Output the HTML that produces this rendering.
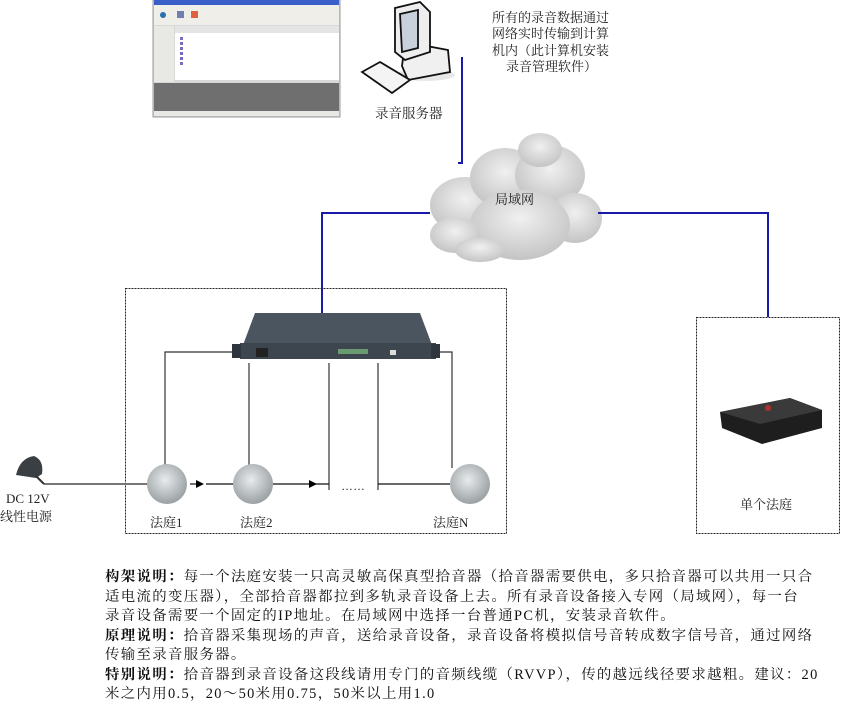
<!DOCTYPE html>
<html><head><meta charset="utf-8"><style>
html,body{margin:0;padding:0;background:#fff;width:841px;height:711px;overflow:hidden}
svg{position:absolute;left:0;top:0}
.t{font-family:"Liberation Serif","Noto Serif CJK SC",serif;fill:#222}
#desc{position:absolute;left:105px;top:568px;width:736px;font-family:"Liberation Serif","Noto Serif CJK SC",serif;font-size:14.4px;line-height:19.5px;color:#111;letter-spacing:1.35px}
#desc div{white-space:nowrap}
#desc b{font-weight:bold}
</style></head><body>
<svg width="841" height="711" viewBox="0 0 841 711">
<defs>
<radialGradient id="cl" cx="50%" cy="40%" r="60%"><stop offset="0" stop-color="#f0f0f0"/><stop offset="1" stop-color="#c4c4c4"/></radialGradient>
<radialGradient id="mic" cx="45%" cy="40%" r="60%"><stop offset="0" stop-color="#e8ebec"/><stop offset="1" stop-color="#9aa0a3"/></radialGradient>
</defs>
<rect x="153" y="0" width="187" height="117" fill="#d8d8d8" stroke="#999"/>
<rect x="154" y="0" width="185" height="5" fill="#3a5fc8"/>
<rect x="154" y="5" width="185" height="20" fill="#efeee8"/>
<circle cx="163" cy="15" r="3" fill="#2a6fb0"/><rect x="177" y="11" width="7" height="7" fill="#7080b0"/><rect x="191" y="11" width="7" height="7" fill="#e06040"/>
<rect x="154" y="26" width="20" height="56" fill="#e8e8e4"/>
<rect x="175" y="26" width="164" height="54" fill="#fff"/>
<rect x="175" y="26" width="164" height="7" fill="#e4e4e4"/>
<g fill="#7a6bc0"><rect x="180" y="37" width="3" height="3"/><rect x="180" y="42" width="3" height="3"/><rect x="180" y="47" width="3" height="3"/><rect x="180" y="52" width="3" height="3"/><rect x="180" y="57" width="3" height="3"/><rect x="180" y="62" width="3" height="3"/></g>
<rect x="154" y="83" width="185" height="28" fill="#6f6f6f"/>
<rect x="154" y="111" width="185" height="5" fill="#e8e8e4"/>
<g stroke="#111" stroke-width="1.8">
<ellipse cx="425" cy="75" rx="30" ry="6" fill="#ddd" stroke="none" opacity=".7"/>
<polygon points="405,42 448,50 450,72 408,80 402,66" fill="#f0f0f0"/>
<polygon points="395,8 420,2 430,12 430,52 405,60 395,52" fill="#eee"/>
<polygon points="400,14 418,10 418,48 402,52" fill="#c8d0dc"/>
<polygon points="362,72 380,62 410,80 392,93" fill="#f4f4f4"/>
</g>
<text class="t" x="375" y="118" font-size="13.5">录音服务器</text>
<g class="t" font-size="13">
<text x="492" y="22">所有的录音数据通过</text>
<text x="492" y="38">网络实时传输到计算</text>
<text x="492" y="55">机内（此计算机安装</text>
<text x="506" y="71">录音管理软件）</text>
</g>
<g fill="url(#cl)">
<ellipse cx="465" cy="205" rx="35" ry="28"/><ellipse cx="505" cy="178" rx="35" ry="30"/><ellipse cx="550" cy="175" rx="35" ry="30"/>
<ellipse cx="575" cy="218" rx="27" ry="25"/><ellipse cx="520" cy="225" rx="50" ry="35"/><ellipse cx="455" cy="235" rx="25" ry="18"/>
<ellipse cx="540" cy="150" rx="22" ry="17"/><ellipse cx="480" cy="250" rx="25" ry="12"/>
</g>
<text class="t" x="495" y="204" font-size="13">局域网</text>
<g stroke="#1a1aa8" stroke-width="2" fill="none">
<polyline points="462,57 462,163 458,163"/>
<polyline points="430,213 322,213 322,313"/>
<polyline points="598,213 768,213 768,317"/>
</g>
<rect x="125.5" y="288.5" width="381" height="245" fill="none" stroke="#222" stroke-dasharray="2,1"/>
<rect x="696.5" y="317.5" width="143" height="216" fill="none" stroke="#222" stroke-dasharray="2,1"/>
<polygon points="255,313 420,313 432,345 243,345" fill="#4a5560"/>
<rect x="240" y="343" width="196" height="16" fill="#3d464f"/>
<rect x="232" y="344" width="9" height="14" fill="#2e353c"/><rect x="431" y="344" width="9" height="14" fill="#2e353c"/>
<rect x="256" y="348" width="12" height="9" fill="#222"/><rect x="338" y="349" width="30" height="5" fill="#6a9a70"/>
<rect x="390" y="350" width="6" height="5" fill="#ddd"/>
<g stroke="#333" stroke-width="1.2" fill="none">
<polyline points="232,352 165,352 165,468"/>
<line x1="249" y1="363" x2="249" y2="468"/>
<line x1="329" y1="363" x2="329" y2="490"/>
<line x1="378" y1="363" x2="378" y2="490"/>
<polyline points="440,352 452,352 452,468"/>
<line x1="44" y1="484" x2="150" y2="484" stroke="#777" stroke-width="2"/>
<line x1="190" y1="484" x2="200" y2="484" stroke="#111"/>
<line x1="206" y1="484" x2="238" y2="484" stroke="#111"/>
<line x1="268" y1="484" x2="329" y2="484" stroke="#111"/>
<line x1="378" y1="484" x2="450" y2="484" stroke="#111"/>
</g>
<polygon points="196,480 204,484 196,488" fill="#000"/>
<polygon points="309,480 317,484 309,488" fill="#000"/>
<text x="341" y="490" font-size="12" fill="#222" font-family="Liberation Sans">……</text>
<g fill="url(#mic)"><circle cx="167" cy="484" r="20"/><circle cx="253" cy="484" r="20"/><circle cx="470" cy="484" r="20"/></g>
<path d="M16,475 Q20,458 34,456 Q44,460 42,474 L36,478 Z" fill="#3a3f44"/>
<line x1="36" y1="476" x2="44" y2="484" stroke="#333" stroke-width="2"/>
<g class="t" font-size="13">
<text x="6" y="503">DC 12V</text>
<text x="0" y="521">线性电源</text>
<text x="150" y="527">法庭1</text>
<text x="240" y="527">法庭2</text>
<text x="433" y="527">法庭N</text>
<text x="740" y="509">单个法庭</text>
</g>
<polygon points="720,412 790,398 822,410 822,428 762,444 722,428" fill="#1e1e1e"/>
<polygon points="720,412 790,398 822,410 760,424" fill="#3a3a3a"/>
<circle cx="768" cy="408" r="3" fill="#b03030"/>
</svg>
<div id="desc">
<div><b>构架说明：</b>每一个法庭安装一只高灵敏高保真型拾音器（拾音器需要供电，多只拾音器可以共用一只合</div>
<div>适电流的变压器），全部拾音器都拉到多轨录音设备上去。所有录音设备接入专网（局域网），每一台</div>
<div>录音设备需要一个固定的IP地址。在局域网中选择一台普通PC机，安装录音软件。</div>
<div><b>原理说明：</b>拾音器采集现场的声音，送给录音设备，录音设备将模拟信号音转成数字信号音，通过网络</div>
<div>传输至录音服务器。</div>
<div><b>特别说明：</b>拾音器到录音设备这段线请用专门的音频线缆（RVVP），传的越远线径要求越粗。建议：20</div>
<div>米之内用0.5，20～50米用0.75，50米以上用1.0</div>
</div>
</body></html>
